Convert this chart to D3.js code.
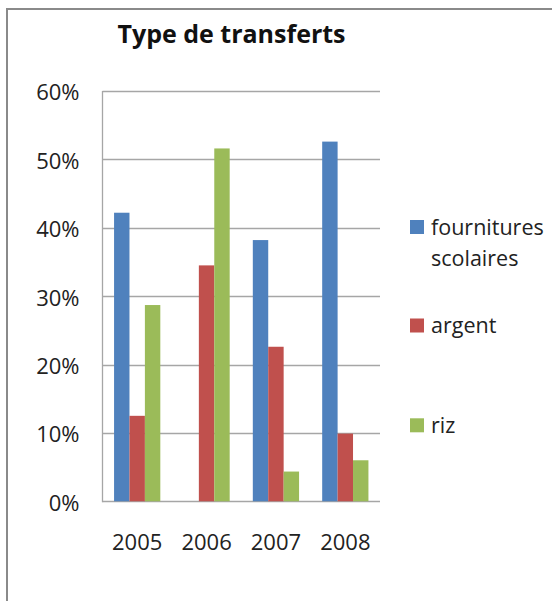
<!DOCTYPE html>
<html>
<head>
<meta charset="utf-8">
<script src="https://cdn.jsdelivr.net/npm/d3@7"></script>
<style>
  body { margin: 0; background: #fff; }
  svg { display: block; font-family: "Open Sans", sans-serif; }
</style>
</head>
<body>
<svg id="chart" width="552" height="601"></svg>
<script>
// data
var years = ["2005", "2006", "2007", "2008"];
var seriesNames = ["fournitures scolaires", "argent", "riz"];
var fournitures = [0.422, 0, 0.382, 0.526];
var argent = [0.125, 0.345, 0.226, 0.099];
var riz = [0.287, 0.516, 0.0435, 0.060];
var yTicks = [0, 0.1, 0.2, 0.3, 0.4, 0.5, 0.6];
var colors = ["#4F81BD", "#C0504D", "#9BBB59"];

var allSeries = [fournitures, argent, riz];

var svg = d3.select("#chart");

// outer frame (only top and left edges visible)
svg.append("path")
    .attr("d", "M7,601 L7,9 L552,9")
    .attr("fill", "none")
    .attr("stroke", "#8a8a8a")
    .attr("stroke-width", 2);

var plotLeft = 102.5, plotRight = 380;
var plotTop = 91, plotBottom = 501.3;

var y = d3.scaleLinear()
    .domain([0, 0.6])
    .range([plotBottom, plotTop]);

var x0 = d3.scaleBand()
    .domain(years)
    .range([plotLeft, plotRight]);

var x1 = d3.scaleBand()
    .domain(d3.range(seriesNames.length))
    .range([0, x0.bandwidth()])
    .paddingOuter(0.75);

// gridlines
svg.append("g")
    .selectAll("line")
    .data(yTicks)
    .join("line")
    .attr("x1", plotLeft)
    .attr("x2", plotRight)
    .attr("y1", d => Math.round(y(d)) + 0.5)
    .attr("y2", d => Math.round(y(d)) + 0.5)
    .attr("stroke", "#a6a6a6")
    .attr("stroke-width", 1.3);

// y axis line
svg.append("line")
    .attr("x1", plotLeft)
    .attr("x2", plotLeft)
    .attr("y1", y(0.6))
    .attr("y2", plotBottom + 1)
    .attr("stroke", "#a6a6a6")
    .attr("stroke-width", 1.3);

// y tick labels
svg.append("g")
    .selectAll("text")
    .data(yTicks)
    .join("text")
    .attr("x", 79.5)
    .attr("y", d => y(d) + 1.5)
    .attr("dy", "0.36em")
    .attr("text-anchor", "end")
    .attr("font-size", 22)
    .attr("fill", "#222")
    .text(d3.format(".0%"));

// bars
var groups = svg.append("g")
    .selectAll("g")
    .data(years)
    .join("g")
    .attr("transform", d => `translate(${x0(d)},0)`);

groups.selectAll("rect")
    .data((d, i) => allSeries.map((s, k) => ({k: k, v: s[i]})))
    .join("rect")
    .attr("x", d => x1(d.k))
    .attr("width", x1.bandwidth())
    .attr("y", d => y(d.v))
    .attr("height", d => plotBottom - y(d.v))
    .attr("fill", d => colors[d.k]);

// x labels
svg.append("g")
    .selectAll("text")
    .data(years)
    .join("text")
    .attr("x", d => x0(d) + x0.bandwidth() / 2)
    .attr("y", 542)
    .attr("dy", "0.36em")
    .attr("text-anchor", "middle")
    .attr("font-size", 22)
    .attr("fill", "#222")
    .text(d => d);

// title
svg.append("text")
    .attr("x", 231.5)
    .attr("y", 43)
    .attr("text-anchor", "middle")
    .attr("font-size", 25)
    .attr("font-weight", "bold")
    .attr("fill", "#111")
    .text("Type de transferts");

// legend
var legendY = [227, 325.5, 425.3];
var legendLines = [["fournitures", "scolaires"], ["argent"], ["riz"]];

var legend = svg.append("g")
    .selectAll("g")
    .data(seriesNames)
    .join("g")
    .attr("transform", (d, i) => `translate(410,${legendY[i]})`);

legend.append("rect")
    .attr("x", 0)
    .attr("y", -7)
    .attr("width", 14)
    .attr("height", 14)
    .attr("fill", (d, i) => colors[i]);

legend.append("text")
    .attr("font-size", 21.5)
    .attr("fill", "#222")
    .selectAll("tspan")
    .data((d, i) => legendLines[i])
    .join("tspan")
    .attr("x", 21)
    .attr("y", (d, j) => j * 31.5)
    .attr("dy", "0.36em")
    .text(d => d);
</script>
</body>
</html>
